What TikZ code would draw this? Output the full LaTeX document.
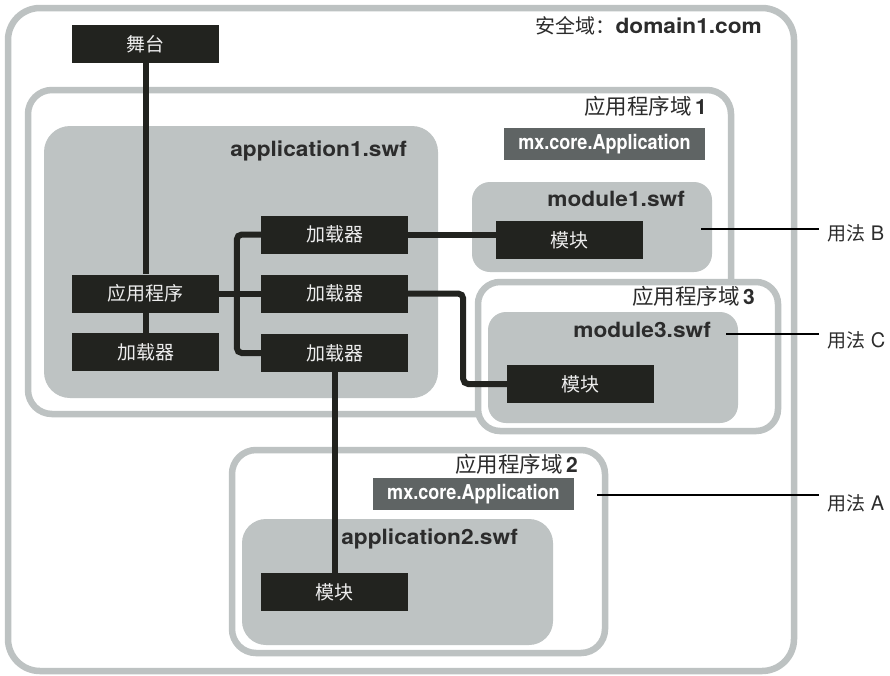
\documentclass[tikz,border=0pt]{standalone}
\usepackage{fontspec}
\usepackage{graphicx}
\setmainfont{TeX Gyre Heros}
\newfontfamily\cjk{Noto Sans CJK SC}
\definecolor{bord}{HTML}{BDC2C2}
\definecolor{boxg}{HTML}{BEC3C3}
\definecolor{blk}{HTML}{22231F}
\definecolor{mxg}{HTML}{5F6464}
\definecolor{txt}{HTML}{2C2C2C}
\newcommand{\wlat}[1]{\scalebox{1.08}[1]{\bfseries #1}}
\newcommand{\cond}[1]{\scalebox{0.88}[1]{\bfseries #1}}
\begin{document}
\begin{tikzpicture}[x=1pt,y=-1pt,
  dombox/.style={draw=bord, line width=6.5pt, fill=white},
  swfbox/.style={fill=boxg},
  blackbox/.style={fill=blk, text=white!93!black, minimum width=147pt, minimum height=38pt, inner sep=0pt, font=\cjk\fontsize{19}{19}\selectfont},
  mxbox/.style={fill=mxg, text=white, minimum width=201pt, minimum height=32pt, inner sep=0pt, font=\fontsize{20.5}{20.5}\selectfont},
  ttl/.style={anchor=base east, inner sep=0pt, text=txt, font=\fontsize{21}{21}\selectfont},
  uselbl/.style={anchor=base west, inner sep=0pt, inner xsep=8pt, text=txt, font=\fontsize{20}{20}\selectfont},
  conn/.style={draw=blk, line width=6pt, rounded corners=5pt},
  uline/.style={draw=black, line width=1.3pt}
]
\useasboundingbox (0,0) rectangle (890,675);

% containers
\draw[dombox, rounded corners=32pt] (8,8) rectangle (794,671);
\draw[dombox, rounded corners=24pt] (28,90) rectangle (731,414);
\fill[swfbox, rounded corners=26pt] (44,126) rectangle (438,398);
\fill[swfbox, rounded corners=18pt] (472,182) rectangle (712,272);
\draw[dombox, rounded corners=22pt] (478,282) rectangle (778,431);
\fill[swfbox, rounded corners=18pt] (488,312) rectangle (738,423);
\draw[dombox, rounded corners=24pt] (232,450) rectangle (605,653);
\fill[swfbox, rounded corners=24pt] (242,519) rectangle (553,645);

% titles
\node[ttl] (tsec) at (762,33) {{\cjk\fontsize{20}{20}\selectfont 安全域：}\wlat{domain1.com}};
\node[ttl] (td1) at (707,114) {{\cjk\fontsize{21.5}{21.5}\selectfont 应用程序域}\,\textbf{1}};
\node[ttl] (td3) at (755,304) {{\cjk\fontsize{21.5}{21.5}\selectfont 应用程序域}\,\textbf{3}};
\node[ttl] (td2) at (578,472) {{\cjk\fontsize{21.5}{21.5}\selectfont 应用程序域}\,\textbf{2}};
\node[ttl] (tapp1) at (407,156) {\wlat{application1.swf}};
\node[ttl] (tmod1) at (685,206) {\wlat{module1.swf}};
\node[ttl] (tmod3) at (711,337) {\wlat{module3.swf}};
\node[ttl] (tapp2) at (518,544) {\wlat{application2.swf}};

% mx boxes
\node[mxbox] (mx1) at (604.5,144) {\cond{mx.core.Application}};
\node[mxbox] (mx2) at (473.5,494) {\cond{mx.core.Application}};

% black boxes
\node[blackbox] (stage) at (145.5,44) {舞台};
\node[blackbox] (app) at (145.5,293.5) {应用程序};
\node[blackbox] (ld0) at (145.5,352) {加载器};
\node[blackbox] (l1) at (334.5,234.5) {加载器};
\node[blackbox] (l2) at (334.5,293.5) {加载器};
\node[blackbox] (l3) at (334.5,353) {加载器};
\node[blackbox] (m1) at (569.5,240) {模块};
\node[blackbox] (m3) at (580.5,384) {模块};
\node[blackbox] (m2) at (334.5,592) {模块};

% connectors
\draw[conn] (stage.south) -- (app.north);
\draw[conn] (app.south) -- (ld0.north);
\draw[conn] (app.east) -- (l2.west);
\draw[conn] (l1.west) -- ++(-24,0) |- (l3.west);
\draw[conn] (l1.east) -- (l1.east -| m1.west);
\draw[conn] (l2.east) -- ++(55,0) |- (m3.west);
\draw[conn] (l3.south) -- (m2.north);

% usage labels
\coordinate (uB) at (701,229);
\coordinate (uC) at (726,334);
\coordinate (uA) at (597,495);
\node[uselbl] (tB) at (819,240) {{\cjk\fontsize{19}{19}\selectfont 用法}~B};
\node[uselbl] (tC) at (819,347) {{\cjk\fontsize{19}{19}\selectfont 用法}~C};
\node[uselbl] (tA) at (819,510) {{\cjk\fontsize{19}{19}\selectfont 用法}~A};
\draw[uline] (uB) -- (uB -| tB.west);
\draw[uline] (uC) -- (uC -| tC.west);
\draw[uline] (uA) -- (uA -| tA.west);
\end{tikzpicture}
\end{document}
